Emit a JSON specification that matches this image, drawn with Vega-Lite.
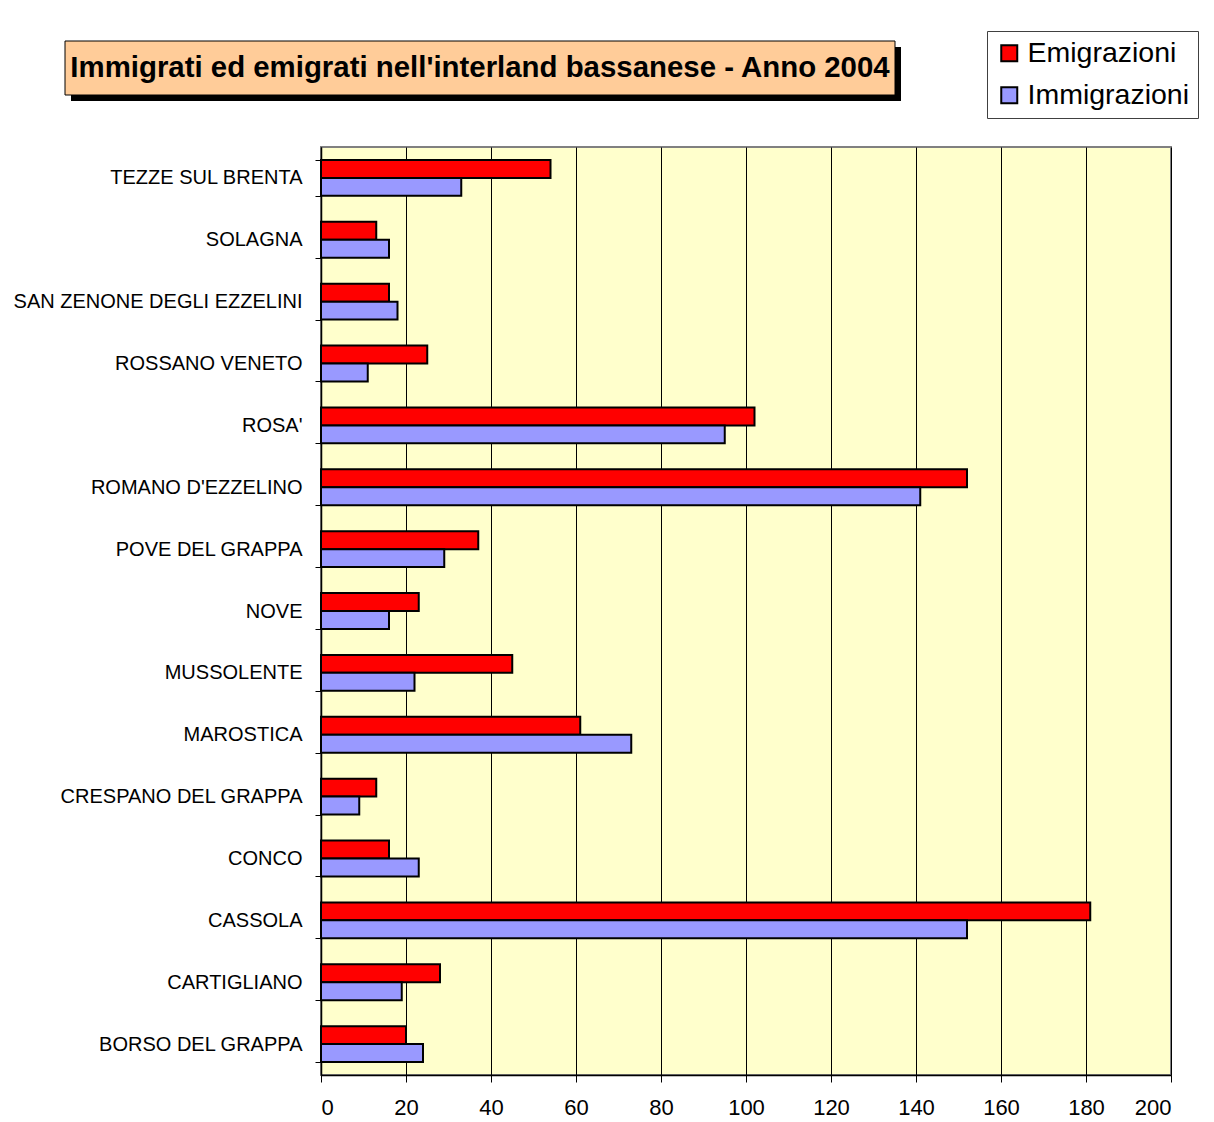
{
  "$schema": "https://vega.github.io/schema/vega-lite/v6.json",
  "background": "white",
  "padding": {"left": 12, "top": 30, "right": 5, "bottom": 2},
  "spacing": 35,
  "config": {"font": "Liberation Sans", "view": {"stroke": null}},
  "vconcat": [
    {
      "width": 830,
      "height": 54,
      "data": {"values": [{"titolo": "Immigrati ed emigrati nell'interland bassanese - Anno 2004"}]},
      "layer": [
        {
          "mark": {"type": "rect", "fill": "black", "xOffset": -250, "x2Offset": -250, "yOffset": 6, "y2Offset": 6},
          "encoding": {"x": {"value": 0}, "x2": {"value": "width"}, "y": {"value": 0}, "y2": {"value": "height"}}
        },
        {
          "mark": {"type": "rect", "fill": "#FFCC99", "stroke": "black", "strokeWidth": 1, "xOffset": -256, "x2Offset": -256},
          "encoding": {"x": {"value": 0}, "x2": {"value": "width"}, "y": {"value": 0}, "y2": {"value": "height"}}
        },
        {
          "mark": {"type": "text", "font": "Liberation Sans", "fontSize": 29.4, "fontWeight": "bold", "color": "black", "dx": -256},
          "encoding": {
            "text": {"field": "titolo"}
          }
        }
      ]
    },
    {
      "width": 850,
      "height": 928,
      "view": {"fill": "#FFFFCC", "stroke": "#808080", "strokeWidth": 2},
      "data": {"values": [
        {"comune": "TEZZE SUL BRENTA", "tipo": "Emigrazioni", "valore": 54},
        {"comune": "TEZZE SUL BRENTA", "tipo": "Immigrazioni", "valore": 33},
        {"comune": "SOLAGNA", "tipo": "Emigrazioni", "valore": 13},
        {"comune": "SOLAGNA", "tipo": "Immigrazioni", "valore": 16},
        {"comune": "SAN ZENONE DEGLI EZZELINI", "tipo": "Emigrazioni", "valore": 16},
        {"comune": "SAN ZENONE DEGLI EZZELINI", "tipo": "Immigrazioni", "valore": 18},
        {"comune": "ROSSANO VENETO", "tipo": "Emigrazioni", "valore": 25},
        {"comune": "ROSSANO VENETO", "tipo": "Immigrazioni", "valore": 11},
        {"comune": "ROSA'", "tipo": "Emigrazioni", "valore": 102},
        {"comune": "ROSA'", "tipo": "Immigrazioni", "valore": 95},
        {"comune": "ROMANO D'EZZELINO", "tipo": "Emigrazioni", "valore": 152},
        {"comune": "ROMANO D'EZZELINO", "tipo": "Immigrazioni", "valore": 141},
        {"comune": "POVE DEL GRAPPA", "tipo": "Emigrazioni", "valore": 37},
        {"comune": "POVE DEL GRAPPA", "tipo": "Immigrazioni", "valore": 29},
        {"comune": "NOVE", "tipo": "Emigrazioni", "valore": 23},
        {"comune": "NOVE", "tipo": "Immigrazioni", "valore": 16},
        {"comune": "MUSSOLENTE", "tipo": "Emigrazioni", "valore": 45},
        {"comune": "MUSSOLENTE", "tipo": "Immigrazioni", "valore": 22},
        {"comune": "MAROSTICA", "tipo": "Emigrazioni", "valore": 61},
        {"comune": "MAROSTICA", "tipo": "Immigrazioni", "valore": 73},
        {"comune": "CRESPANO DEL GRAPPA", "tipo": "Emigrazioni", "valore": 13},
        {"comune": "CRESPANO DEL GRAPPA", "tipo": "Immigrazioni", "valore": 9},
        {"comune": "CONCO", "tipo": "Emigrazioni", "valore": 16},
        {"comune": "CONCO", "tipo": "Immigrazioni", "valore": 23},
        {"comune": "CASSOLA", "tipo": "Emigrazioni", "valore": 181},
        {"comune": "CASSOLA", "tipo": "Immigrazioni", "valore": 152},
        {"comune": "CARTIGLIANO", "tipo": "Emigrazioni", "valore": 28},
        {"comune": "CARTIGLIANO", "tipo": "Immigrazioni", "valore": 19},
        {"comune": "BORSO DEL GRAPPA", "tipo": "Emigrazioni", "valore": 20},
        {"comune": "BORSO DEL GRAPPA", "tipo": "Immigrazioni", "valore": 24}
      ]},
      "mark": {"type": "bar", "stroke": "black", "strokeWidth": 2},
      "encoding": {
        "y": {
          "field": "comune",
          "type": "nominal",
          "sort": ["TEZZE SUL BRENTA", "SOLAGNA", "SAN ZENONE DEGLI EZZELINI", "ROSSANO VENETO", "ROSA'", "ROMANO D'EZZELINO", "POVE DEL GRAPPA", "NOVE", "MUSSOLENTE", "MAROSTICA", "CRESPANO DEL GRAPPA", "CONCO", "CASSOLA", "CARTIGLIANO", "BORSO DEL GRAPPA"],
          "scale": {"paddingInner": 0.42, "paddingOuter": 0.21},
          "axis": {
            "title": null,
            "tickBand": "extent",
            "tickColor": "black",
            "tickSize": 6,
            "domainColor": "black",
            "domainWidth": 1.5,
            "labelFont": "Liberation Sans",
            "labelFontSize": 20,
            "labelColor": "black",
            "labelPadding": 13,
            "labelLimit": 400,
            "grid": false
          }
        },
        "yOffset": {"field": "tipo", "type": "nominal", "sort": ["Emigrazioni", "Immigrazioni"]},
        "x": {
          "field": "valore",
          "type": "quantitative",
          "scale": {"domain": [0, 200]},
          "axis": {
            "title": null,
            "values": [0, 20, 40, 60, 80, 100, 120, 140, 160, 180, 200],
            "grid": true,
            "gridColor": "black",
            "gridWidth": 1,
            "gridOpacity": 1,
            "tickColor": "black",
            "tickSize": 7,
            "domainColor": "black",
            "domainWidth": 1.5,
            "labelFont": "Liberation Sans",
            "labelFontSize": 22,
            "labelColor": "black",
            "labelPadding": 15
          }
        },
        "color": {
          "field": "tipo",
          "type": "nominal",
          "scale": {"domain": ["Emigrazioni", "Immigrazioni"], "range": ["#FF0000", "#9999FF"]},
          "legend": {
            "orient": "none",
            "legendX": 666,
            "legendY": -10,
            "title": null,
            "fillColor": "white",
            "strokeColor": "#404040",
            "padding": 8,
            "symbolType": "square",
            "symbolSize": 256,
            "symbolStrokeColor": "black",
            "symbolStrokeWidth": 2,
            "symbolOpacity": 1,
            "labelFont": "Liberation Sans",
            "labelFontSize": 28.5,
            "labelColor": "black",
            "labelOffset": 4,
            "rowPadding": 13,
            "labelLimit": 300
          }
        }
      }
    }
  ]
}
